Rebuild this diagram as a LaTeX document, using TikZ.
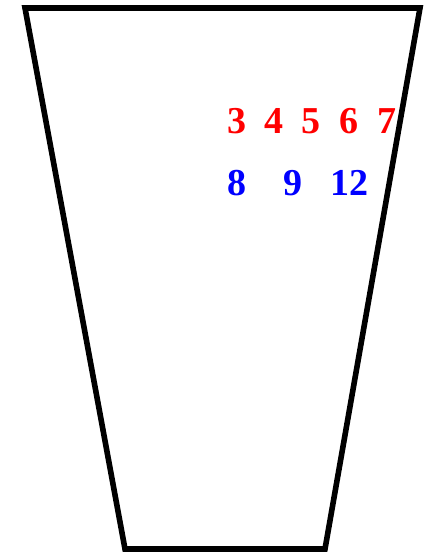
\documentclass[tikz,border=0pt]{standalone}
\usepackage{fontspec}
\setmainfont{Liberation Serif}
\begin{document}
\begin{tikzpicture}[x=1pt,y=-1pt,
  num/.style={font=\fontsize{38}{40}\selectfont\bfseries, inner sep=0pt, anchor=base},
  rednum/.style={num, text=red},
  bluenum/.style={num, text=blue}]
\useasboundingbox (0,0) rectangle (424,552);
\draw[line width=5.6pt, line join=miter] (25,8) coordinate (tl) -- (420,8) coordinate (tr) -- (325,549) coordinate (br) -- (125,549) coordinate (bl) -- cycle;
\node[rednum] (n3) at (237,133) {3};
\node[rednum] (n4) at (274,133) {4};
\node[rednum] (n5) at (311,133) {5};
\node[rednum] (n6) at (349,133) {6};
\node[rednum] (n7) at (387,133) {7};
\node[bluenum] (n8) at (237,195) {8};
\node[bluenum] (n9) at (293,195) {9};
\node[bluenum] (n12) at (349,195) {12};
\end{tikzpicture}
\end{document}
